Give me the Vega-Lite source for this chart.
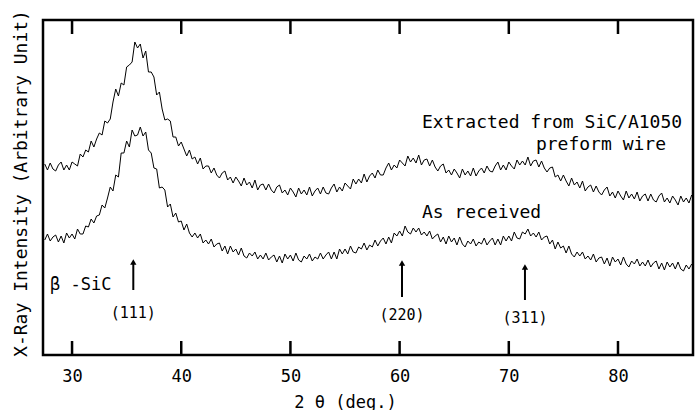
{
"$schema":"https://vega.github.io/schema/vega-lite/v6.json",
"width":650,"height":335,
"autosize":"none",
"padding":{"left":43,"top":20,"right":2,"bottom":55},
"background":"white",
"config":{"font":"DejaVu Sans Mono","view":{"stroke":"black","strokeWidth":2.5},"axis":{"grid":false}},
"datasets":{
"scan":[
{"theta":27.5,"extracted":191,"received":115},{"theta":27.75,"extracted":185,"received":121},{"theta":28,"extracted":192,"received":114},{"theta":28.25,"extracted":186,"received":118},{"theta":28.5,"extracted":184,"received":120},{"theta":28.75,"extracted":190,"received":113},{"theta":29,"extracted":193,"received":119},{"theta":29.25,"extracted":185,"received":112},{"theta":29.5,"extracted":190,"received":122},{"theta":29.75,"extracted":185,"received":117},
{"theta":30,"extracted":193,"received":121},{"theta":30.25,"extracted":191,"received":116},{"theta":30.5,"extracted":189,"received":126},{"theta":30.75,"extracted":201,"received":121},{"theta":31,"extracted":198,"received":121},{"theta":31.25,"extracted":205,"received":129},{"theta":31.5,"extracted":203,"received":128},{"theta":31.75,"extracted":214,"received":136},{"theta":32,"extracted":208,"received":132},{"theta":32.25,"extracted":216,"received":139},
{"theta":32.5,"extracted":222,"received":140},{"theta":32.75,"extracted":220,"received":150},{"theta":33,"extracted":234,"received":147},{"theta":33.25,"extracted":232,"received":157},{"theta":33.5,"extracted":236,"received":168},{"theta":33.75,"extracted":253,"received":164},{"theta":34,"extracted":266,"received":180},{"theta":34.25,"extracted":259,"received":178},{"theta":34.5,"extracted":272,"received":202},{"theta":34.75,"extracted":270,"received":202},
{"theta":35,"extracted":288,"received":214},{"theta":35.25,"extracted":290,"received":208},{"theta":35.5,"extracted":293,"received":225},{"theta":35.75,"extracted":313,"received":219},{"theta":36,"extracted":307,"received":220},{"theta":36.25,"extracted":311,"received":228},{"theta":36.5,"extracted":297,"received":219},{"theta":36.75,"extracted":304,"received":223},{"theta":37,"extracted":283,"received":205},{"theta":37.25,"extracted":283,"received":202},
{"theta":37.5,"extracted":278,"received":187},{"theta":37.75,"extracted":260,"received":186},{"theta":38,"extracted":263,"received":167},{"theta":38.25,"extracted":246,"received":168},{"theta":38.5,"extracted":235,"received":165},{"theta":38.75,"extracted":236,"received":148},{"theta":39,"extracted":234,"received":151},{"theta":39.25,"extracted":218,"received":138},{"theta":39.5,"extracted":218,"received":142},{"theta":39.75,"extracted":209,"received":133},
{"theta":40,"extracted":213,"received":134},{"theta":40.25,"extracted":206,"received":125},{"theta":40.5,"extracted":199,"received":131},{"theta":40.75,"extracted":205,"received":122},{"theta":41,"extracted":196,"received":118},{"theta":41.25,"extracted":198,"received":122},{"theta":41.5,"extracted":191,"received":117},{"theta":41.75,"extracted":197,"received":121},{"theta":42,"extracted":186,"received":112},{"theta":42.25,"extracted":189,"received":115},
{"theta":42.5,"extracted":189,"received":111},{"theta":42.75,"extracted":182,"received":116},{"theta":43,"extracted":187,"received":108},{"theta":43.25,"extracted":180,"received":111},{"theta":43.5,"extracted":177,"received":112},{"theta":43.75,"extracted":182,"received":104},{"theta":44,"extracted":184,"received":109},{"theta":44.25,"extracted":175,"received":101},{"theta":44.5,"extracted":178,"received":109},{"theta":44.75,"extracted":172,"received":103},
{"theta":45,"extracted":178,"received":106},{"theta":45.25,"extracted":174,"received":100},{"theta":45.5,"extracted":169,"received":107},{"theta":45.75,"extracted":177,"received":99},{"theta":46,"extracted":170,"received":97},{"theta":46.25,"extracted":173,"received":102},{"theta":46.5,"extracted":167,"received":99},{"theta":46.75,"extracted":175,"received":103},{"theta":47,"extracted":165,"received":96},{"theta":47.25,"extracted":170,"received":100},
{"theta":47.5,"extracted":171,"received":96},{"theta":47.75,"extracted":165,"received":102},{"theta":48,"extracted":171,"received":95},{"theta":48.25,"extracted":165,"received":98},{"theta":48.5,"extracted":162,"received":100},{"theta":48.75,"extracted":168,"received":93},{"theta":49,"extracted":170,"received":99},{"theta":49.25,"extracted":162,"received":92},{"theta":49.5,"extracted":165,"received":101},{"theta":49.75,"extracted":160,"received":96},
{"theta":50,"extracted":167,"received":100},{"theta":50.25,"extracted":163,"received":94},{"theta":50.5,"extracted":158,"received":102},{"theta":50.75,"extracted":167,"received":95},{"theta":51,"extracted":161,"received":93},{"theta":51.25,"extracted":165,"received":99},{"theta":51.5,"extracted":160,"received":96},{"theta":51.75,"extracted":168,"received":101},{"theta":52,"extracted":159,"received":94},{"theta":52.25,"extracted":164,"received":98},
{"theta":52.5,"extracted":167,"received":96},{"theta":52.75,"extracted":161,"received":102},{"theta":53,"extracted":168,"received":96},{"theta":53.25,"extracted":162,"received":100},{"theta":53.5,"extracted":161,"received":103},{"theta":53.75,"extracted":167,"received":96},{"theta":54,"extracted":171,"received":103},{"theta":54.25,"extracted":163,"received":96},{"theta":54.5,"extracted":168,"received":106},{"theta":54.75,"extracted":164,"received":101},
{"theta":55,"extracted":172,"received":106},{"theta":55.25,"extracted":169,"received":101},{"theta":55.5,"extracted":166,"received":109},{"theta":55.75,"extracted":176,"received":103},{"theta":56,"extracted":171,"received":102},{"theta":56.25,"extracted":176,"received":108},{"theta":56.5,"extracted":172,"received":106},{"theta":56.75,"extracted":181,"received":112},{"theta":57,"extracted":173,"received":105},{"theta":57.25,"extracted":179,"received":110},
{"theta":57.5,"extracted":182,"received":108},{"theta":57.75,"extracted":177,"received":115},{"theta":58,"extracted":185,"received":109},{"theta":58.25,"extracted":180,"received":114},{"theta":58.5,"extracted":180,"received":117},{"theta":58.75,"extracted":187,"received":111},{"theta":59,"extracted":192,"received":118},{"theta":59.25,"extracted":185,"received":112},{"theta":59.5,"extracted":190,"received":122},{"theta":59.75,"extracted":187,"received":119},
{"theta":60,"extracted":195,"received":124},{"theta":60.25,"extracted":192,"received":119},{"theta":60.5,"extracted":189,"received":129},{"theta":60.75,"extracted":199,"received":123},{"theta":61,"extracted":193,"received":121},{"theta":61.25,"extracted":197,"received":127},{"theta":61.5,"extracted":192,"received":123},{"theta":61.75,"extracted":200,"received":127},{"theta":62,"extracted":190,"received":120},{"theta":62.25,"extracted":195,"received":123},
{"theta":62.5,"extracted":196,"received":119},{"theta":62.75,"extracted":189,"received":124},{"theta":63,"extracted":195,"received":116},{"theta":63.25,"extracted":188,"received":119},{"theta":63.5,"extracted":184,"received":121},{"theta":63.75,"extracted":189,"received":113},{"theta":64,"extracted":191,"received":118},{"theta":64.25,"extracted":182,"received":111},{"theta":64.5,"extracted":185,"received":119},{"theta":64.75,"extracted":180,"received":113},
{"theta":65,"extracted":186,"received":117},{"theta":65.25,"extracted":182,"received":110},{"theta":65.5,"extracted":177,"received":118},{"theta":65.75,"extracted":186,"received":111},{"theta":66,"extracted":180,"received":108},{"theta":66.25,"extracted":184,"received":114},{"theta":66.5,"extracted":179,"received":111},{"theta":66.75,"extracted":187,"received":116},{"theta":67,"extracted":179,"received":109},{"theta":67.25,"extracted":184,"received":113},
{"theta":67.5,"extracted":187,"received":111},{"theta":67.75,"extracted":182,"received":117},{"theta":68,"extracted":189,"received":110},{"theta":68.25,"extracted":184,"received":114},{"theta":68.5,"extracted":183,"received":117},{"theta":68.75,"extracted":189,"received":110},{"theta":69,"extracted":193,"received":116},{"theta":69.25,"extracted":185,"received":110},{"theta":69.5,"extracted":190,"received":119},{"theta":69.75,"extracted":185,"received":114},
{"theta":70,"extracted":193,"received":119},{"theta":70.25,"extracted":189,"received":114},{"theta":70.5,"extracted":186,"received":123},{"theta":70.75,"extracted":195,"received":117},{"theta":71,"extracted":190,"received":116},{"theta":71.25,"extracted":194,"received":123},{"theta":71.5,"extracted":190,"received":121},{"theta":71.75,"extracted":198,"received":126},{"theta":72,"extracted":189,"received":119},{"theta":72.25,"extracted":194,"received":122},
{"theta":72.5,"extracted":195,"received":118},{"theta":72.75,"extracted":188,"received":123},{"theta":73,"extracted":194,"received":115},{"theta":73.25,"extracted":187,"received":118},{"theta":73.5,"extracted":183,"received":119},{"theta":73.75,"extracted":187,"received":111},{"theta":74,"extracted":188,"received":115},{"theta":74.25,"extracted":178,"received":106},{"theta":74.5,"extracted":180,"received":113},{"theta":74.75,"extracted":174,"received":107},
{"theta":75,"extracted":180,"received":109},{"theta":75.25,"extracted":174,"received":102},{"theta":75.5,"extracted":169,"received":109},{"theta":75.75,"extracted":177,"received":101},{"theta":76,"extracted":170,"received":98},{"theta":76.25,"extracted":173,"received":103},{"theta":76.5,"extracted":167,"received":99},{"theta":76.75,"extracted":174,"received":103},{"theta":77,"extracted":164,"received":96},{"theta":77.25,"extracted":168,"received":99},
{"theta":77.5,"extracted":170,"received":95},{"theta":77.75,"extracted":163,"received":101},{"theta":78,"extracted":169,"received":93},{"theta":78.25,"extracted":163,"received":97},{"theta":78.5,"extracted":160,"received":98},{"theta":78.75,"extracted":165,"received":91},{"theta":79,"extracted":168,"received":97},{"theta":79.25,"extracted":159,"received":89},{"theta":79.5,"extracted":163,"received":98},{"theta":79.75,"extracted":157,"received":93},
{"theta":80,"extracted":164,"received":96},{"theta":80.25,"extracted":159,"received":90},{"theta":80.5,"extracted":155,"received":98},{"theta":80.75,"extracted":164,"received":91},{"theta":81,"extracted":157,"received":88},{"theta":81.25,"extracted":161,"received":94},{"theta":81.5,"extracted":156,"received":91},{"theta":81.75,"extracted":163,"received":96},{"theta":82,"extracted":154,"received":89},{"theta":82.25,"extracted":159,"received":93},
{"theta":82.5,"extracted":161,"received":89},{"theta":82.75,"extracted":154,"received":95},{"theta":83,"extracted":161,"received":88},{"theta":83.25,"extracted":155,"received":92},{"theta":83.5,"extracted":153,"received":94},{"theta":83.75,"extracted":159,"received":86},{"theta":84,"extracted":162,"received":92},{"theta":84.25,"extracted":153,"received":85},{"theta":84.5,"extracted":157,"received":93},{"theta":84.75,"extracted":152,"received":88},
{"theta":85,"extracted":159,"received":92},{"theta":85.25,"extracted":155,"received":86},{"theta":85.5,"extracted":150,"received":93},{"theta":85.75,"extracted":159,"received":86},{"theta":86,"extracted":153,"received":84},{"theta":86.25,"extracted":157,"received":90},{"theta":86.5,"extracted":152,"received":86},{"theta":86.75,"extracted":160,"received":91}
],
"tickpos":[{"t":30},{"t":40},{"t":50},{"t":60},{"t":70},{"t":80}],
"arrows":[
{"x":35.61,"y0":65,"y1":93},
{"x":60.22,"y0":58,"y1":92},
{"x":71.48,"y0":55,"y1":88}
],
"big":[
{"x":62.05,"y":232,"label":"Extracted from SiC/A1050"},
{"x":62.05,"y":142,"label":"As received"}
],
"center18":[
{"x":78.44,"y":210,"label":"preform wire"}
],
"beta":[
{"x":27.99,"y":70,"label":"β -SiC"}
],
"hkl":[
{"x":35.61,"y":42,"label":"(111)"},
{"x":60.22,"y":40,"label":"(220)"},
{"x":71.48,"y":37,"label":"(311)"}
]
},
"layer":[
{"data":{"name":"scan"},
 "transform":[{"fold":["extracted","received"],"as":["series","intensity"]}],
 "mark":{"type":"line","color":"black","strokeWidth":1},
 "encoding":{
  "x":{"field":"theta","type":"quantitative","scale":{"domain":[27.34,86.87],"nice":false,"zero":false},
   "axis":{"orient":"bottom","values":[30,40,50,60,70,80],"format":"d","ticks":false,"domain":false,"labelFontSize":17,"labelPadding":13,"labelColor":"black","labelFlush":false,"title":"2 θ  (deg.)","titleFontSize":17,"titleFontWeight":"normal","titleColor":"black","titleX":302,"titleY":47,"titleAlign":"center","titleBaseline":"middle"}},
  "y":{"field":"intensity","type":"quantitative","scale":{"domain":[0,335],"nice":false,"zero":false},
   "axis":{"title":"X-Ray Intensity (Arbitrary Unit)","labels":false,"ticks":false,"domain":false,"titleFontSize":18,"titleFontWeight":"normal","titleColor":"black","titleX":-22,"titleY":163,"titleAlign":"center","titleBaseline":"middle","titleAngle":270}},
  "detail":{"field":"series"}
 }},
{"data":{"name":"tickpos"},
 "mark":{"type":"rule","color":"black","strokeWidth":2.5},
 "encoding":{
  "x":{"field":"t","type":"quantitative"},
  "y":{"datum":0},
  "y2":{"datum":14}
 }},
{"data":{"name":"tickpos"},
 "mark":{"type":"rule","color":"black","strokeWidth":2.5},
 "encoding":{
  "x":{"field":"t","type":"quantitative"},
  "y":{"datum":321},
  "y2":{"datum":335}
 }},
{"data":{"name":"arrows"},
 "mark":{"type":"rule","color":"black","strokeWidth":2},
 "encoding":{
  "x":{"field":"x","type":"quantitative"},
  "y":{"field":"y0","type":"quantitative"},
  "y2":{"field":"y1"}
 }},
{"data":{"name":"arrows"},
 "mark":{"type":"point","shape":"triangle-up","filled":true,"color":"black","size":40,"opacity":1},
 "encoding":{
  "x":{"field":"x","type":"quantitative"},
  "y":{"field":"y1","type":"quantitative"}
 }},
{"data":{"name":"big"},
 "mark":{"type":"text","fontSize":18,"align":"left","baseline":"middle","color":"black"},
 "encoding":{"x":{"field":"x","type":"quantitative"},"y":{"field":"y","type":"quantitative"},"text":{"field":"label"}}},
{"data":{"name":"center18"},
 "mark":{"type":"text","fontSize":18,"align":"center","baseline":"middle","color":"black"},
 "encoding":{"x":{"field":"x","type":"quantitative"},"y":{"field":"y","type":"quantitative"},"text":{"field":"label"}}},
{"data":{"name":"beta"},
 "mark":{"type":"text","fontSize":17,"align":"left","baseline":"middle","color":"black"},
 "encoding":{"x":{"field":"x","type":"quantitative"},"y":{"field":"y","type":"quantitative"},"text":{"field":"label"}}},
{"data":{"name":"hkl"},
 "mark":{"type":"text","fontSize":15,"align":"center","baseline":"middle","color":"black"},
 "encoding":{"x":{"field":"x","type":"quantitative"},"y":{"field":"y","type":"quantitative"},"text":{"field":"label"}}}
]
}
